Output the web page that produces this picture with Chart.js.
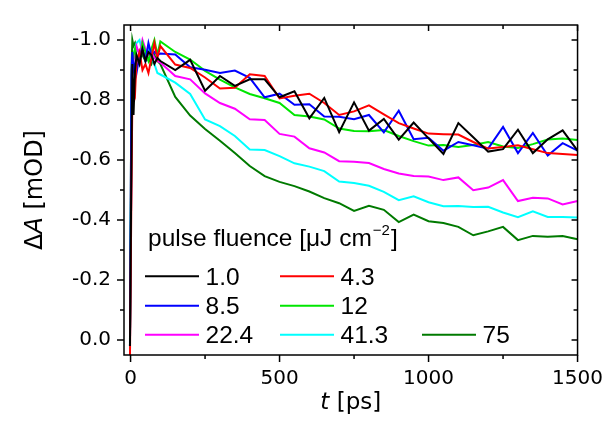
<!DOCTYPE html>
<html>
<head>
<meta charset="utf-8">
<script src="https://cdn.jsdelivr.net/npm/chart.js@4.4.1/dist/chart.umd.min.js"></script>
<style>
  html, body { margin: 0; padding: 0; background: #fff; }
  #wrap { width: 615px; height: 439px; }
</style>
</head>
<body>
<div id="wrap"><canvas id="decayChart" width="615" height="439"></canvas></div>
<script>
// delay times [ps]
const times = [-2, 3, 6, 10, 15, 20, 30, 40, 50, 60, 70, 80, 90,
  100, 150, 200, 250, 300, 350, 400, 450, 500, 550, 600, 650, 700, 750, 800,
  850, 900, 950, 1000, 1050, 1100, 1150, 1200, 1250, 1300, 1350, 1400, 1450, 1500];

// pulse fluence [uJ cm^-2]
const fluences = ['1.0', '4.3', '8.5', '12', '22.4', '41.3', '75'];
const colors = ['#000000', '#ff0000', '#0000ff', '#00e600', '#ff00ff', '#00ffff', '#007a00'];

// dA [mOD]
const dA_1_0 = [0.02, -0.6, -0.92, -0.75, -0.9, -0.95, -0.92, -0.97, -0.93, -0.96, -0.95, -0.92, -0.94,
  -0.93, -0.90, -0.934, -0.831, -0.88, -0.847, -0.869, -0.869, -0.809, -0.829, -0.739, -0.807, -0.693, -0.792, -0.698,
  -0.737, -0.668, -0.725, -0.672, -0.62, -0.723, -0.676, -0.628, -0.636, -0.701, -0.623, -0.669, -0.699, -0.631];
const dA_4_3 = [0.06, -0.5, -0.8, -0.84, -0.82, -0.93, -0.96, -0.9, -0.92, -0.89, -0.94, -0.99, -0.94,
  -0.98, -0.918, -0.907, -0.875, -0.838, -0.841, -0.886, -0.88, -0.805, -0.814, -0.821, -0.79, -0.75, -0.762, -0.782,
  -0.752, -0.723, -0.705, -0.688, -0.686, -0.685, -0.66, -0.638, -0.643, -0.649, -0.636, -0.623, -0.62, -0.617];
const dA_8_5 = [0.01, -0.88, -0.96, -0.9, -0.92, -0.89, -0.95, -0.97, -0.93, -0.99, -0.95, -0.96, -0.95,
  -0.955, -0.952, -0.909, -0.901, -0.89, -0.898, -0.874, -0.809, -0.821, -0.784, -0.786, -0.745, -0.744, -0.736, -0.75,
  -0.692, -0.764, -0.669, -0.674, -0.631, -0.66, -0.649, -0.638, -0.71, -0.623, -0.69, -0.615, -0.656, -0.631];
const dA_12 = [0.0, -0.7, -0.9, -0.95, -0.97, -0.94, -0.92, -0.99, -0.96, -0.93, -0.97, -1.0, -0.95,
  -0.995, -0.96, -0.935, -0.897, -0.868, -0.842, -0.82, -0.806, -0.79, -0.75, -0.745, -0.735, -0.705, -0.697, -0.696,
  -0.7, -0.68, -0.663, -0.648, -0.65, -0.643, -0.65, -0.66, -0.645, -0.64, -0.653, -0.668, -0.672, -0.667];
const dA_22_4 = [0.02, -0.6, -0.9, -0.93, -0.96, -0.98, -0.95, -1.0, -0.97, -0.95, -0.96, -0.94, -0.93,
  -0.925, -0.88, -0.869, -0.822, -0.79, -0.771, -0.736, -0.733, -0.687, -0.678, -0.639, -0.625, -0.596, -0.594, -0.59,
  -0.57, -0.555, -0.547, -0.545, -0.533, -0.542, -0.499, -0.508, -0.533, -0.463, -0.474, -0.472, -0.452, -0.463];
const dA_41_3 = [0.03, -0.7, -0.92, -0.95, -0.97, -0.99, -1.0, -0.96, -0.95, -0.97, -0.94, -0.92, -0.89,
  -0.885, -0.858, -0.82, -0.735, -0.713, -0.68, -0.635, -0.633, -0.613, -0.589, -0.578, -0.563, -0.528, -0.523, -0.514,
  -0.494, -0.466, -0.479, -0.459, -0.446, -0.447, -0.443, -0.444, -0.425, -0.409, -0.429, -0.41, -0.41, -0.408];
const dA_75 = [0.02, -0.9, -1.0, -0.98, -0.99, -0.97, -0.96, -0.95, -0.93, -0.94, -0.92, -0.95, -0.93,
  -0.92, -0.81, -0.748, -0.703, -0.664, -0.623, -0.58, -0.546, -0.527, -0.513, -0.495, -0.473, -0.456, -0.43, -0.447,
  -0.434, -0.393, -0.418, -0.396, -0.39, -0.377, -0.349, -0.362, -0.377, -0.333, -0.347, -0.344, -0.347, -0.336];

const series = [dA_1_0, dA_4_3, dA_8_5, dA_12, dA_22_4, dA_41_3, dA_75];

const xTicks = [0, 500, 1000, 1500];
const xMinorTicks = [250, 750, 1250];
const yTicks = [-1.0, -0.8, -0.6, -0.4, -0.2, 0.0];
const yMinorTicks = [-0.9, -0.7, -0.5, -0.3, -0.1];

const sansFont = '"Liberation Sans", Arial, sans-serif';
const tickFont = '"DejaVu Sans", sans-serif';

// frame, mirrored ticks and axis titles
const frameAndTitles = {
    id: 'frameAndTitles',
    afterDraw: (chart) => {
        const ctx = chart.ctx;
        const a = chart.chartArea;
        const xs = chart.scales.x;
        const ys = chart.scales.y;
        ctx.save();
        ctx.strokeStyle = '#000';
        ctx.lineWidth = 1.5;
        ctx.strokeRect(a.left, a.top, a.right - a.left, a.bottom - a.top);

        ctx.beginPath();
        const mark = (px, py, dx, dy) => { ctx.moveTo(px, py); ctx.lineTo(px + dx, py + dy); };
        xTicks.forEach(v => {
            const p = xs.getPixelForValue(v);
            mark(p, a.bottom, 0, 7);
            mark(p, a.top, 0, 6);
        });
        xMinorTicks.forEach(v => {
            const p = xs.getPixelForValue(v);
            mark(p, a.bottom, 0, 4);
            mark(p, a.top, 0, 4);
        });
        yTicks.forEach(v => {
            const p = ys.getPixelForValue(v);
            mark(a.left, p, -7, 0);
            mark(a.right, p, -6, 0);
        });
        yMinorTicks.forEach(v => {
            const p = ys.getPixelForValue(v);
            mark(a.left, p, -4, 0);
            mark(a.right, p, -4, 0);
        });
        ctx.stroke();

        // x title: t [ps]
        ctx.fillStyle = '#000';
        ctx.textBaseline = 'alphabetic';
        const italicX = 'italic 23px ' + tickFont;
        const normalX = '23px ' + tickFont;
        ctx.font = italicX;
        const wt = ctx.measureText('t').width;
        ctx.font = normalX;
        const wr = ctx.measureText(' [ps]').width;
        let sx = (a.left + a.right) / 2 - (wt + wr) / 2;
        ctx.font = italicX;
        ctx.fillText('t', sx, 409);
        ctx.font = normalX;
        ctx.fillText(' [ps]', sx + wt, 409);

        // y title: ΔA [mOD]
        ctx.translate(42, (a.top + a.bottom) / 2);
        ctx.rotate(-Math.PI / 2);
        const normalY = '24px ' + tickFont;
        const italicY = 'italic 24px ' + tickFont;
        ctx.font = normalY;
        const w1 = ctx.measureText('\u0394').width;
        const w3 = ctx.measureText(' [mOD]').width;
        ctx.font = italicY;
        const w2 = ctx.measureText('A').width;
        let sy = -(w1 + w2 + w3) / 2;
        ctx.font = normalY;
        ctx.fillText('\u0394', sy, 0);
        ctx.font = italicY;
        ctx.fillText('A', sy + w1, 0);
        ctx.font = normalY;
        ctx.fillText(' [mOD]', sy + w1 + w2, 0);
        ctx.restore();
    }
};

// legend laid out like the original (title + 2/2/3 rows)
const fluenceLegend = {
    id: 'fluenceLegend',
    afterDraw: (chart) => {
        const ctx = chart.ctx;
        const a = chart.chartArea;
        ctx.save();
        ctx.fillStyle = '#000';
        ctx.textBaseline = 'alphabetic';
        const big = '24.5px ' + sansFont;
        const small = '15px ' + sansFont;
        const tx = a.left + 24;
        const ty = a.top + 220.5;
        const head = 'pulse fluence [\u03bcJ cm';
        ctx.font = big;
        ctx.fillText(head, tx, ty);
        let x = tx + ctx.measureText(head).width;
        ctx.font = small;
        ctx.fillText('\u22122', x + 1, ty - 11);
        x += ctx.measureText('\u22122').width + 2;
        ctx.font = big;
        ctx.fillText(']', x, ty);

        const slots = [[0, 0], [1, 0], [0, 1], [1, 1], [0, 2], [1, 2], [2, 2]];
        const colX = [a.left + 21, a.left + 156, a.left + 298];
        const rowY = [a.top + 251.3, a.top + 280.7, a.top + 309.7];
        chart.data.datasets.forEach((ds, i) => {
            const lx = colX[slots[i][0]];
            const ly = rowY[slots[i][1]];
            ctx.strokeStyle = ds.borderColor;
            ctx.lineWidth = 2;
            ctx.beginPath();
            ctx.moveTo(lx, ly);
            ctx.lineTo(lx + 54, ly);
            ctx.stroke();
            ctx.fillText(ds.label, lx + 60.5, ly + 8.5);
        });
        ctx.restore();
    }
};

const datasets = series.map((vals, i) => ({
    label: fluences[i],
    data: vals.map((v, j) => ({ x: times[j], y: v })),
    borderColor: colors[i],
    backgroundColor: colors[i],
    borderWidth: 2,
    pointRadius: 0,
    tension: 0,
    fill: false
}));

const config = {
    type: 'line',
    data: { datasets: datasets },
    plugins: [frameAndTitles, fluenceLegend],
    options: {
        responsive: false,
        animation: false,
        layout: { padding: { left: 0, top: 16, right: 30, bottom: 0 } },
        plugins: {
            legend: { display: false },
            tooltip: { enabled: false }
        },
        scales: {
            x: {
                type: 'linear',
                min: -22,
                max: 1500,
                grid: { display: false, drawTicks: false },
                border: { display: false },
                afterBuildTicks: (scale) => { scale.ticks = xTicks.map(v => ({ value: v })); },
                afterFit: (scale) => { scale.height = 84; },
                ticks: {
                    color: '#000',
                    padding: 12,
                    maxRotation: 0,
                    font: { family: tickFont, size: 20 },
                    callback: (v) => String(v)
                }
            },
            y: {
                type: 'linear',
                reverse: true,
                min: -1.05,
                max: 0.05,
                grid: { display: false, drawTicks: false },
                border: { display: false },
                afterBuildTicks: (scale) => { scale.ticks = yTicks.map(v => ({ value: v })); },
                afterFit: (scale) => { scale.width = 124; },
                ticks: {
                    color: '#000',
                    padding: 13,
                    font: { family: tickFont, size: 20 },
                    callback: (v) => (Math.abs(v) < 1e-9 ? '0.0' : v.toFixed(1))
                }
            }
        }
    }
};

const decayChart = new Chart(document.getElementById('decayChart'), config);
</script>
</body>
</html>
